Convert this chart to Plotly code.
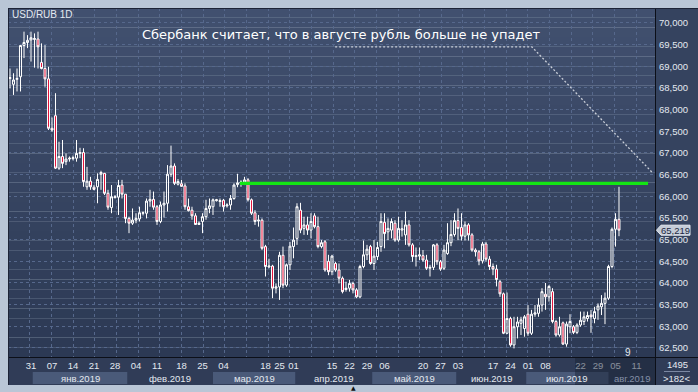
import plotly.graph_objects as go

# ---------------- data ----------------
opens = [68.72, 68.585, 68.70, 68.76, 69.48, 69.55, 69.61, 69.62, 69.63, 69.09,
         68.95, 68.71, 67.57, 67.86, 66.65, 66.92, 66.80, 66.86, 66.87, 66.88,
         66.99, 67.01, 66.22, 66.35, 66.21, 66.22, 66.51, 66.53, 66.07, 65.74,
         65.97, 65.98, 66.26, 66.05, 65.49, 65.38, 65.45, 65.48, 65.61, 65.61,
         65.89, 65.93, 65.76, 65.42, 65.80, 65.84, 66.51, 66.70, 66.28, 66.29,
         66.24, 65.76, 65.68, 65.55, 65.35, 65.42, 65.53, 65.72, 65.76, 65.90,
         65.88, 65.91, 65.78, 65.80, 65.95, 66.27, 66.30, 66.33, 66.38, 65.92,
         65.62, 65.43, 65.45, 64.84, 64.37, 64.39, 63.88, 63.91, 64.64, 63.95,
         64.42, 64.84, 65.03, 65.68, 65.26, 65.34, 65.22, 65.55, 65.30, 64.84,
         64.95, 64.50, 64.26, 64.45, 64.30, 64.11, 63.85, 63.88, 63.99, 63.84,
         63.68, 64.38, 64.65, 64.84, 64.45, 64.61, 64.84, 65.40, 65.18, 65.22,
         65.38, 64.99, 65.22, 65.11, 65.34, 64.88, 64.61, 64.62, 64.63, 64.53,
         64.34, 64.36, 64.88, 64.49, 64.34, 64.68, 64.93, 65.12, 65.44, 65.28,
         65.08, 65.34, 65.11, 64.76, 64.72, 64.51, 64.90, 64.55, 64.38, 64.32,
         64.03, 63.75, 62.84, 63.18, 62.57, 62.99, 63.07, 62.95, 63.28, 62.84,
         63.28, 63.30, 63.49, 63.74, 63.68, 63.80, 63.11, 62.80, 63.08, 62.59,
         62.99, 62.99, 62.86, 63.03, 63.11, 63.18, 63.26, 63.18, 63.38, 63.45,
         63.53, 63.65, 64.38, 65.24, 65.47]
highs = [68.95, 68.84, 68.95, 69.49, 69.80, 69.72, 69.80, 69.76, 69.80, 69.53,
         69.49, 68.99, 67.82, 68.38, 67.26, 67.30, 66.99, 66.92, 66.94, 67.30,
         67.12, 67.11, 66.68, 66.45, 66.26, 66.53, 66.59, 66.54, 66.15, 66.26,
         66.03, 66.38, 66.38, 66.05, 65.53, 65.72, 65.61, 65.76, 65.65, 65.95,
         66.15, 66.11, 65.80, 65.88, 66.11, 66.72, 67.17, 66.76, 66.40, 66.38,
         66.30, 65.95, 65.76, 65.61, 65.42, 65.61, 65.92, 65.95, 65.95, 65.94,
         65.95, 65.94, 65.84, 66.03, 66.30, 66.52, 66.37, 66.45, 66.42, 65.95,
         65.68, 65.57, 65.49, 64.88, 64.56, 64.42, 63.99, 64.72, 64.84, 64.45,
         64.95, 65.28, 65.84, 65.85, 65.53, 65.53, 65.61, 65.61, 65.53, 64.99,
         64.99, 64.65, 64.65, 64.49, 64.45, 64.15, 64.03, 64.07, 64.03, 63.88,
         64.42, 64.98, 64.88, 64.88, 64.99, 64.95, 65.61, 65.61, 65.49, 65.49,
         65.45, 65.53, 65.45, 65.65, 65.45, 64.92, 64.82, 64.82, 64.76, 64.65,
         64.42, 64.90, 64.92, 64.53, 64.88, 65.38, 65.45, 65.61, 65.72, 65.61,
         65.42, 65.38, 65.15, 64.80, 64.76, 64.95, 64.95, 64.62, 64.45, 64.42,
         64.07, 63.78, 63.78, 63.22, 63.22, 63.22, 63.22, 63.26, 63.49, 63.38,
         63.49, 63.65, 63.88, 64.00, 63.95, 63.88, 63.15, 63.22, 63.11, 63.11,
         63.28, 63.03, 63.07, 63.34, 63.34, 63.34, 63.38, 63.45, 63.53, 63.72,
         63.78, 64.42, 65.28, 65.61, 66.22]
lows = [68.49, 68.34, 68.42, 68.42, 69.19, 69.42, 69.11, 68.97, 68.95, 68.93,
        68.53, 67.53, 67.49, 66.63, 66.61, 66.65, 66.72, 66.80, 66.83, 66.80,
        66.88, 66.22, 66.15, 66.15, 66.14, 65.84, 66.15, 66.03, 65.69, 65.61,
        65.95, 65.57, 65.95, 65.38, 65.15, 65.34, 65.38, 65.42, 65.56, 65.49,
        65.76, 65.69, 65.34, 65.38, 65.51, 65.65, 66.45, 66.26, 66.25, 66.22,
        65.69, 65.65, 65.46, 65.34, 65.34, 65.15, 65.46, 65.61, 65.57, 65.88,
        65.76, 65.65, 65.74, 65.69, 65.92, 66.21, 66.22, 66.26, 65.88, 65.57,
        65.34, 65.30, 64.76, 64.15, 64.34, 63.65, 63.76, 63.61, 63.88, 63.91,
        64.30, 64.57, 64.88, 65.15, 65.11, 65.11, 65.03, 65.26, 64.80, 64.80,
        64.26, 64.18, 64.18, 64.26, 63.99, 63.76, 63.80, 63.80, 63.76, 63.65,
        63.65, 64.34, 64.53, 64.42, 64.30, 64.53, 64.72, 64.80, 64.99, 65.03,
        64.95, 64.95, 65.07, 64.88, 64.84, 64.49, 64.38, 64.53, 64.49, 64.30,
        64.15, 64.30, 64.42, 64.28, 64.30, 64.65, 64.85, 65.07, 64.99, 64.98,
        64.98, 64.98, 64.72, 64.61, 64.41, 64.45, 64.49, 64.30, 64.18, 63.92,
        63.68, 62.82, 62.82, 62.53, 62.49, 62.72, 62.80, 62.76, 62.78, 62.80,
        63.22, 63.22, 63.34, 63.38, 63.57, 63.07, 62.76, 62.76, 62.57, 62.53,
        62.84, 62.82, 62.82, 62.99, 63.03, 63.11, 62.85, 63.07, 63.15, 63.26,
        63.05, 63.61, 64.34, 64.84, 65.08]
closes = [68.74, 68.685, 68.72, 69.48, 69.55, 69.60, 69.66, 69.64, 69.45, 68.95,
          68.71, 67.57, 67.53, 66.65, 66.92, 66.76, 66.86, 66.88, 66.89, 66.99,
          67.01, 66.34, 66.35, 66.22, 66.16, 66.39, 66.55, 66.07, 65.75, 65.99,
          65.99, 66.25, 66.05, 65.49, 65.38, 65.45, 65.49, 65.62, 65.62, 65.89,
          65.93, 65.75, 65.42, 65.80, 65.84, 66.51, 66.70, 66.30, 66.34, 66.23,
          65.76, 65.67, 65.55, 65.35, 65.38, 65.53, 65.72, 65.78, 65.92, 65.92,
          65.90, 65.76, 65.80, 65.95, 66.26, 66.31, 66.33, 66.38, 65.92, 65.61,
          65.42, 65.45, 64.80, 64.38, 64.39, 63.88, 63.91, 64.64, 63.95, 64.42,
          64.85, 64.99, 65.76, 65.22, 65.34, 65.22, 65.42, 65.30, 64.84, 64.93,
          64.30, 64.26, 64.62, 64.30, 64.11, 63.80, 63.88, 63.99, 63.84, 63.68,
          64.38, 64.65, 64.78, 64.45, 64.62, 64.82, 65.42, 65.14, 65.26, 65.42,
          64.99, 65.26, 65.25, 65.34, 64.88, 64.61, 64.63, 64.65, 64.53, 64.34,
          64.36, 64.88, 64.49, 64.32, 64.76, 64.93, 65.12, 65.44, 65.26, 65.08,
          65.34, 65.11, 64.76, 64.72, 64.51, 64.90, 64.55, 64.38, 64.32, 64.08,
          63.75, 62.84, 63.18, 62.57, 62.99, 63.10, 63.15, 63.22, 62.84, 63.28,
          63.31, 63.49, 63.80, 63.68, 63.92, 63.11, 62.80, 62.99, 62.59, 63.05,
          63.11, 62.86, 63.03, 63.14, 63.22, 63.25, 63.22, 63.34, 63.47, 63.53,
          63.65, 64.38, 65.24, 65.47, 65.219]

tick_idx = [6, 12, 18, 24, 30, 36, 42, 49, 55, 61, 73, 77, 81, 92, 97, 102, 107,
            118, 123, 128, 138, 143, 148, 153, 163, 168, 173, 179]
tick_txt = ["31", "07", "14", "21", "28", "04", "11", "18", "25", "04", "18", "25",
            "01", "15", "22", "29", "06", "20", "27", "03", "17", "24", "01", "08",
            "22", "29", "05", "11"]
month_names = ["янв.2019", "фев.2019", "мар.2019", "апр.2019", "май.2019",
               "июн.2019", "июл.2019", "авг.2019"]
month_start = [6.5, 33.5, 58, 81.5, 103.5, 127.5, 147.5, 171]
y_ticks = [62.5, 63.0, 63.5, 64.0, 64.5, 65.0, 65.5, 66.0, 66.5, 67.0, 67.5,
           68.0, 68.5, 69.0, 69.5, 70.0]

level_price = 66.30
level_from, level_to = 65.7, 182.3
trend_x = [92.9, 149.1, 183.4]
trend_y = [69.45, 69.45, 66.56]
last_price = 65.219

x_range = [-0.571, 184.29]
y_range = [62.292, 70.346]

# ---------------- layout helpers ----------------
W, H = 698, 392
L, R, T, B = 8, 43, 8, 35
PW, PH = W - L - R, H - T - B


def fx(px):
    return (px - L) / PW


def fy(py):
    return (H - B - py) / PH


FONT = "Liberation Sans"
TXT = "#e4e9f0"
GRID = "#56688c"

shapes = []
# plot background gradient
n = 36
top_c, bot_c = (65, 80, 111), (44, 57, 84)
for i in range(n):
    t = i / (n - 1)
    c = tuple(round(top_c[k] + (bot_c[k] - top_c[k]) * t) for k in range(3))
    shapes.append(dict(type="rect", xref="paper", yref="paper", layer="below",
                       x0=0, x1=1, y0=1 - (i + 1) / n, y1=1 - i / n,
                       fillcolor="rgb(%d,%d,%d)" % c, line=dict(width=0)))
# right price column
shapes.append(dict(type="rect", xref="paper", yref="paper", layer="below",
                   x0=fx(655), x1=fx(698), y0=fy(357), y1=fy(8),
                   fillcolor="#35435f", line=dict(width=0)))
# x-axis strip
shapes.append(dict(type="rect", xref="paper", yref="paper", layer="below",
                   x0=0, x1=fx(698), y0=fy(385), y1=fy(357),
                   fillcolor="#303c57", line=dict(width=0)))
# month bands
for i, s in enumerate(month_start):
    e = month_start[i + 1] if i + 1 < len(month_start) else x_range[1]
    if i % 2 == 0:
        shapes.append(dict(type="rect", xref="x", yref="paper", layer="below",
                           x0=s, x1=min(e, x_range[1]), y0=fy(384), y1=fy(372),
                           fillcolor="#4a5a79", line=dict(width=0)))
# future overlay in axis strip
shapes.append(dict(type="rect", xref="paper", yref="paper", layer="above",
                   x0=fx(575), x1=fx(655), y0=fy(385), y1=fy(358),
                   fillcolor="rgba(22,30,48,0.45)", line=dict(width=0)))
# frame lines
for (x0, y0, x1, y1, col) in [(655.5, 8, 655.5, 385, "#0c0f18"),
                              (8, 357.5, 698, 357.5, "#0c0f18"),
                              (8.5, 8, 8.5, 385, "#1c2336"),
                              (8, 8.5, 698, 8.5, "#1c2336")]:
    shapes.append(dict(type="line", xref="paper", yref="paper", layer="above",
                       x0=fx(x0), x1=fx(x1), y0=fy(y0), y1=fy(y1),
                       line=dict(color=col, width=1)))
# separator in corner box
shapes.append(dict(type="line", xref="paper", yref="paper", layer="above",
                   x0=fx(664), x1=fx(690), y0=fy(371.5), y1=fy(371.5),
                   line=dict(color="#7b88a3", width=1)))
# current price marker (box with arrow) in the price column
py_last = 23 + (70 - last_price) * 43.333
path = "M %f %f L %f %f L %f %f L %f %f L %f %f Z" % (
    fx(656.5), fy(py_last), fx(661), fy(py_last - 5), fx(690), fy(py_last - 5),
    fx(690), fy(py_last + 5), fx(661), fy(py_last + 5))
shapes.append(dict(type="path", xref="paper", yref="paper", layer="above", path=path,
                   fillcolor="#c4ccd8", line=dict(color="#e6eaf0", width=1)))

fig = go.Figure()
fig.add_trace(go.Candlestick(
    x=list(range(len(opens))), open=opens, high=highs, low=lows, close=closes,
    increasing=dict(line=dict(color="#ffffff", width=1), fillcolor="rgba(0,0,0,0)"),
    decreasing=dict(line=dict(color="#ffffff", width=1), fillcolor="#e3143c"),
    whiskerwidth=0, showlegend=False, hoverinfo="skip"))
fig.add_trace(go.Scatter(x=[level_from, level_to], y=[level_price, level_price],
                         mode="lines", line=dict(color="#14e614", width=3.2),
                         showlegend=False, hoverinfo="skip"))
fig.add_trace(go.Scatter(x=trend_x, y=trend_y, mode="lines",
                         line=dict(color="#c9ced8", width=1.3, dash="2px,2px"),
                         showlegend=False, hoverinfo="skip"))

annotations = [
    dict(text="USD/RUB 1D", xref="paper", yref="paper", x=fx(10), y=fy(15),
         xanchor="left", yanchor="middle", showarrow=False,
         font=dict(family=FONT, size=10, color=TXT)),
    dict(text="Сбербанк считает, что в августе рубль больше не упадет",
         xref="paper", yref="paper", x=fx(340.5), y=fy(35), xanchor="center",
         yanchor="middle", showarrow=False,
         font=dict(family="DejaVu Sans", size=13, color="#ffffff")),
    dict(text="9", xref="paper", yref="paper", x=fx(627.5), y=fy(352),
         xanchor="center", yanchor="middle", showarrow=False,
         font=dict(family=FONT, size=10, color=TXT)),
    dict(text=("%.3f" % last_price).replace(".", ","), xref="paper", yref="paper",
         x=fx(675), y=fy(py_last), xanchor="center", yanchor="middle",
         showarrow=False, font=dict(family=FONT, size=9.5, color="#1d2942")),
    dict(text="1495", xref="paper", yref="paper", x=fx(677), y=fy(364.5),
         xanchor="center", yanchor="middle", showarrow=False,
         font=dict(family=FONT, size=9.5, color=TXT)),
    dict(text="&gt;182&lt;", xref="paper", yref="paper", x=fx(676.5), y=fy(378),
         xanchor="center", yanchor="middle", showarrow=False,
         font=dict(family=FONT, size=9.5, color=TXT)),
    dict(text="▲", xref="paper", yref="paper", x=fx(353), y=fy(387.5),
         xanchor="center", yanchor="middle", showarrow=False,
         font=dict(family="DejaVu Sans", size=6, color="#111111")),
]
for i, name in enumerate(month_names):
    s = month_start[i]
    e = month_start[i + 1] if i + 1 < len(month_start) else x_range[1]
    col = "#8590a8" if s > 165 else TXT
    annotations.append(dict(text=name, xref="x", yref="paper", x=(s + e) / 2,
                            y=fy(378), xanchor="center", yanchor="middle",
                            showarrow=False,
                            font=dict(family=FONT, size=9.5, color=col)))

fig.update_layout(
    width=W, height=H, margin=dict(l=L, r=R, t=T, b=B, autoexpand=False),
    paper_bgcolor="#b9c6d6", plot_bgcolor="rgba(0,0,0,0)",
    shapes=shapes, annotations=annotations, showlegend=False, boxgap=0.18,
    xaxis=dict(range=x_range, tickmode="array", tickvals=tick_idx, ticktext=tick_txt,
               showgrid=False, zeroline=False, showline=False, ticks="",
               ticklabelstandoff=1,
               tickfont=dict(family=FONT, size=9.5, color=TXT),
               rangeslider=dict(visible=False), fixedrange=True,
               minor=dict(tickmode="linear", tick0=5.63, dtick=6.19, showgrid=True,
                          gridcolor=GRID, griddash="3px,3px", gridwidth=1, ticks="")),
    yaxis=dict(range=y_range, side="right", tickmode="array", tickvals=y_ticks,
               ticktext=[("%.3f" % v).replace(".", ",") for v in y_ticks],
               showgrid=True, gridcolor=GRID, griddash="3px,3px", gridwidth=1,
               zeroline=False, showline=False, ticks="", ticklabelstandoff=3,
               tickfont=dict(family=FONT, size=9.5, color=TXT), fixedrange=True),
)

fig.write_html("out.html")
